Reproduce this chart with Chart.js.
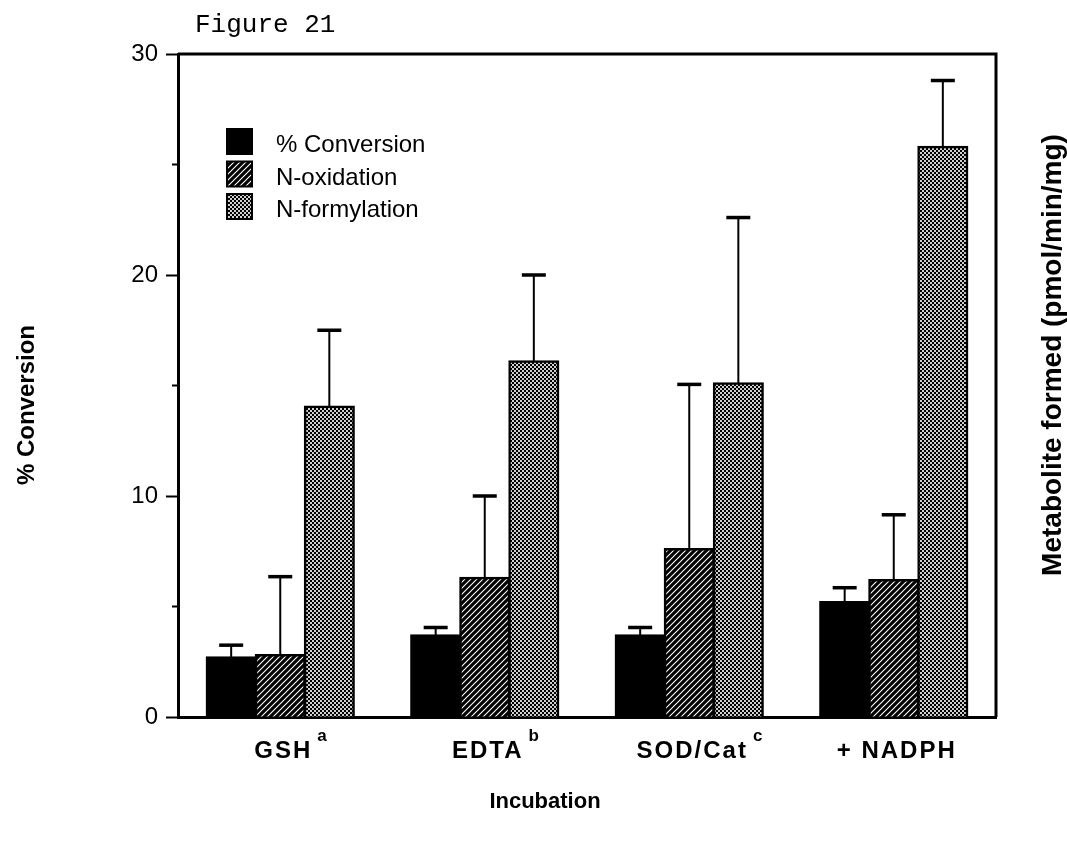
<!DOCTYPE html>
<html>
<head>
<meta charset="utf-8">
<title>Figure 21</title>
<script src="https://cdn.jsdelivr.net/npm/chart.js@4.4.1/dist/chart.umd.min.js"></script>
<style>
  html, body { margin: 0; padding: 0; background: #fff; }
  canvas { display: block; }
</style>
</head>
<body>
<canvas id="fig21" width="1067" height="842"></canvas>
<script>
// values
const categories = ['GSH', 'EDTA', 'SOD/Cat', '+ NADPH'];
const categorySup = ['a', 'b', 'c', ''];
const seriesNames = ['% Conversion', 'N-oxidation', 'N-formylation'];
const conversion = [2.7, 3.7, 3.7, 5.2];
const conversionErr = [0.55, 0.35, 0.35, 0.65];
const oxidation = [2.8, 6.3, 7.6, 6.2];
const oxidationErr = [3.55, 3.7, 7.45, 2.95];
const formylation = [14.05, 16.1, 15.1, 25.8];
const formylationErr = [3.45, 3.9, 7.5, 3.0];
const yTicks = [0, 10, 20, 30];
const yMinorTicks = [5, 15, 25];

const SANS = '"Liberation Sans", Arial, Helvetica, sans-serif';
const canvas = document.getElementById('fig21');
const ctx = canvas.getContext('2d');

function hatchPattern() {
    const c = document.createElement('canvas');
    c.width = 6; c.height = 6;
    const g = c.getContext('2d');
    g.fillStyle = '#000';
    g.fillRect(0, 0, 6, 6);
    g.strokeStyle = '#fff';
    g.lineWidth = 1.1;
    g.beginPath();
    g.moveTo(-1, 7); g.lineTo(7, -1);
    g.moveTo(-1, 1); g.lineTo(1, -1);
    g.moveTo(5, 7); g.lineTo(7, 5);
    g.stroke();
    return ctx.createPattern(c, 'repeat');
}

function dotPattern() {
    const c = document.createElement('canvas');
    c.width = 4; c.height = 4;
    const g = c.getContext('2d');
    g.fillStyle = '#000';
    g.fillRect(0, 0, 4, 4);
    g.fillStyle = '#d0d0d0';
    g.fillRect(0, 0, 2, 2);
    g.fillRect(2, 2, 2, 2);
    return ctx.createPattern(c, 'repeat');
}

const fills = ['#000', hatchPattern(), dotPattern()];

// error bars, frame, labels, legend
const decor = {
    id: 'decor',
    afterDatasetsDraw(chart) {
        const c = chart.ctx;
        const y = chart.scales.y;
        c.save();
        c.strokeStyle = '#000';
        chart.data.datasets.forEach((ds, di) => {
            chart.getDatasetMeta(di).data.forEach((bar, i) => {
                const top = y.getPixelForValue(ds.data[i] + ds.errors[i]);
                c.lineWidth = 2;
                c.beginPath();
                c.moveTo(bar.x, bar.y);
                c.lineTo(bar.x, top);
                c.stroke();
                c.lineWidth = 3.5;
                c.beginPath();
                c.moveTo(bar.x - 12, top);
                c.lineTo(bar.x + 12, top);
                c.stroke();
            });
        });
        c.restore();
    },
    afterDraw(chart) {
        const c = chart.ctx;
        const area = chart.chartArea;
        const x = chart.scales.x;
        const y = chart.scales.y;
        c.save();
        c.strokeStyle = '#000';
        c.fillStyle = '#000';

        // top and right frame
        c.lineWidth = 3;
        c.beginPath();
        c.moveTo(area.left, area.top);
        c.lineTo(area.right, area.top);
        c.lineTo(area.right, area.bottom);
        c.stroke();

        // minor ticks
        c.lineWidth = 2;
        yMinorTicks.forEach(v => {
            const py = y.getPixelForValue(v);
            c.beginPath();
            c.moveTo(area.left - 6, py);
            c.lineTo(area.left, py);
            c.stroke();
        });

        // category labels with superscripts
        c.textBaseline = 'alphabetic';
        c.textAlign = 'center';
        c.letterSpacing = '2px';
        categories.forEach((label, i) => {
            const px = x.getPixelForValue(i);
            c.font = 'bold 24px ' + SANS;
            const w = c.measureText(label).width;
            c.fillText(label, px + 3, 758);
            if (categorySup[i]) {
                c.font = 'bold 17px ' + SANS;
                c.textAlign = 'left';
                c.fillText(categorySup[i], px + 3 + w / 2 + 5, 741);
                c.textAlign = 'center';
            }
        });
        c.letterSpacing = '0px';

        // axis titles
        c.font = 'bold 22px ' + SANS;
        c.fillText('Incubation', 545, 808);

        c.textBaseline = 'middle';
        c.save();
        c.translate(27, 405);
        c.rotate(-Math.PI / 2);
        c.font = 'bold 24px ' + SANS;
        c.fillText('% Conversion', 0, 0);
        c.restore();

        c.save();
        c.translate(1053, 355);
        c.rotate(-Math.PI / 2);
        c.font = 'bold 28px ' + SANS;
        c.fillText('Metabolite formed (pmol/min/mg)', 0, 0);
        c.restore();

        // legend
        c.textAlign = 'left';
        c.textBaseline = 'alphabetic';
        c.font = '24px ' + SANS;
        chart.data.datasets.forEach((ds, di) => {
            const top = 129 + di * 32.5;
            c.fillStyle = ds.backgroundColor;
            c.fillRect(227, top, 25, 25);
            c.lineWidth = 2;
            c.strokeRect(227, top, 25, 25);
            c.fillStyle = '#000';
            c.fillText(ds.label, 276, top + 23);
        });

        // figure caption
        c.font = '26px "Liberation Mono", "Courier New", monospace';
        c.fillText('Figure 21', 195, 32);
        c.restore();
    }
};

new Chart(ctx, {
    type: 'bar',
    data: {
        labels: categories,
        datasets: [
            { label: seriesNames[0], data: conversion, errors: conversionErr, backgroundColor: fills[0] },
            { label: seriesNames[1], data: oxidation, errors: oxidationErr, backgroundColor: fills[1] },
            { label: seriesNames[2], data: formylation, errors: formylationErr, backgroundColor: fills[2] }
        ].map(ds => Object.assign(ds, {
            borderColor: '#000',
            borderWidth: 2.5,
            barPercentage: 1,
            categoryPercentage: 0.72,
            inflateAmount: 1
        }))
    },
    options: {
        responsive: false,
        animation: false,
        devicePixelRatio: 1,
        layout: { padding: { top: 54, right: 71, bottom: 125, left: 0 } },
        plugins: {
            legend: { display: false },
            tooltip: { enabled: false }
        },
        scales: {
            x: {
                grid: { display: false },
                ticks: { display: false },
                border: { color: '#000', width: 3 },
                afterFit(s) { s.height = 0; }
            },
            y: {
                min: 0,
                max: 30,
                afterBuildTicks(s) { s.ticks = yTicks.map(v => ({ value: v })); },
                ticks: { color: '#000', padding: 8, font: { family: SANS, size: 24 } },
                grid: { drawOnChartArea: false, tickLength: 12, tickColor: '#000', tickWidth: 2 },
                border: { color: '#000', width: 3 },
                afterFit(s) { s.width = 178; }
            }
        }
    },
    plugins: [decor]
});
</script>
</body>
</html>
